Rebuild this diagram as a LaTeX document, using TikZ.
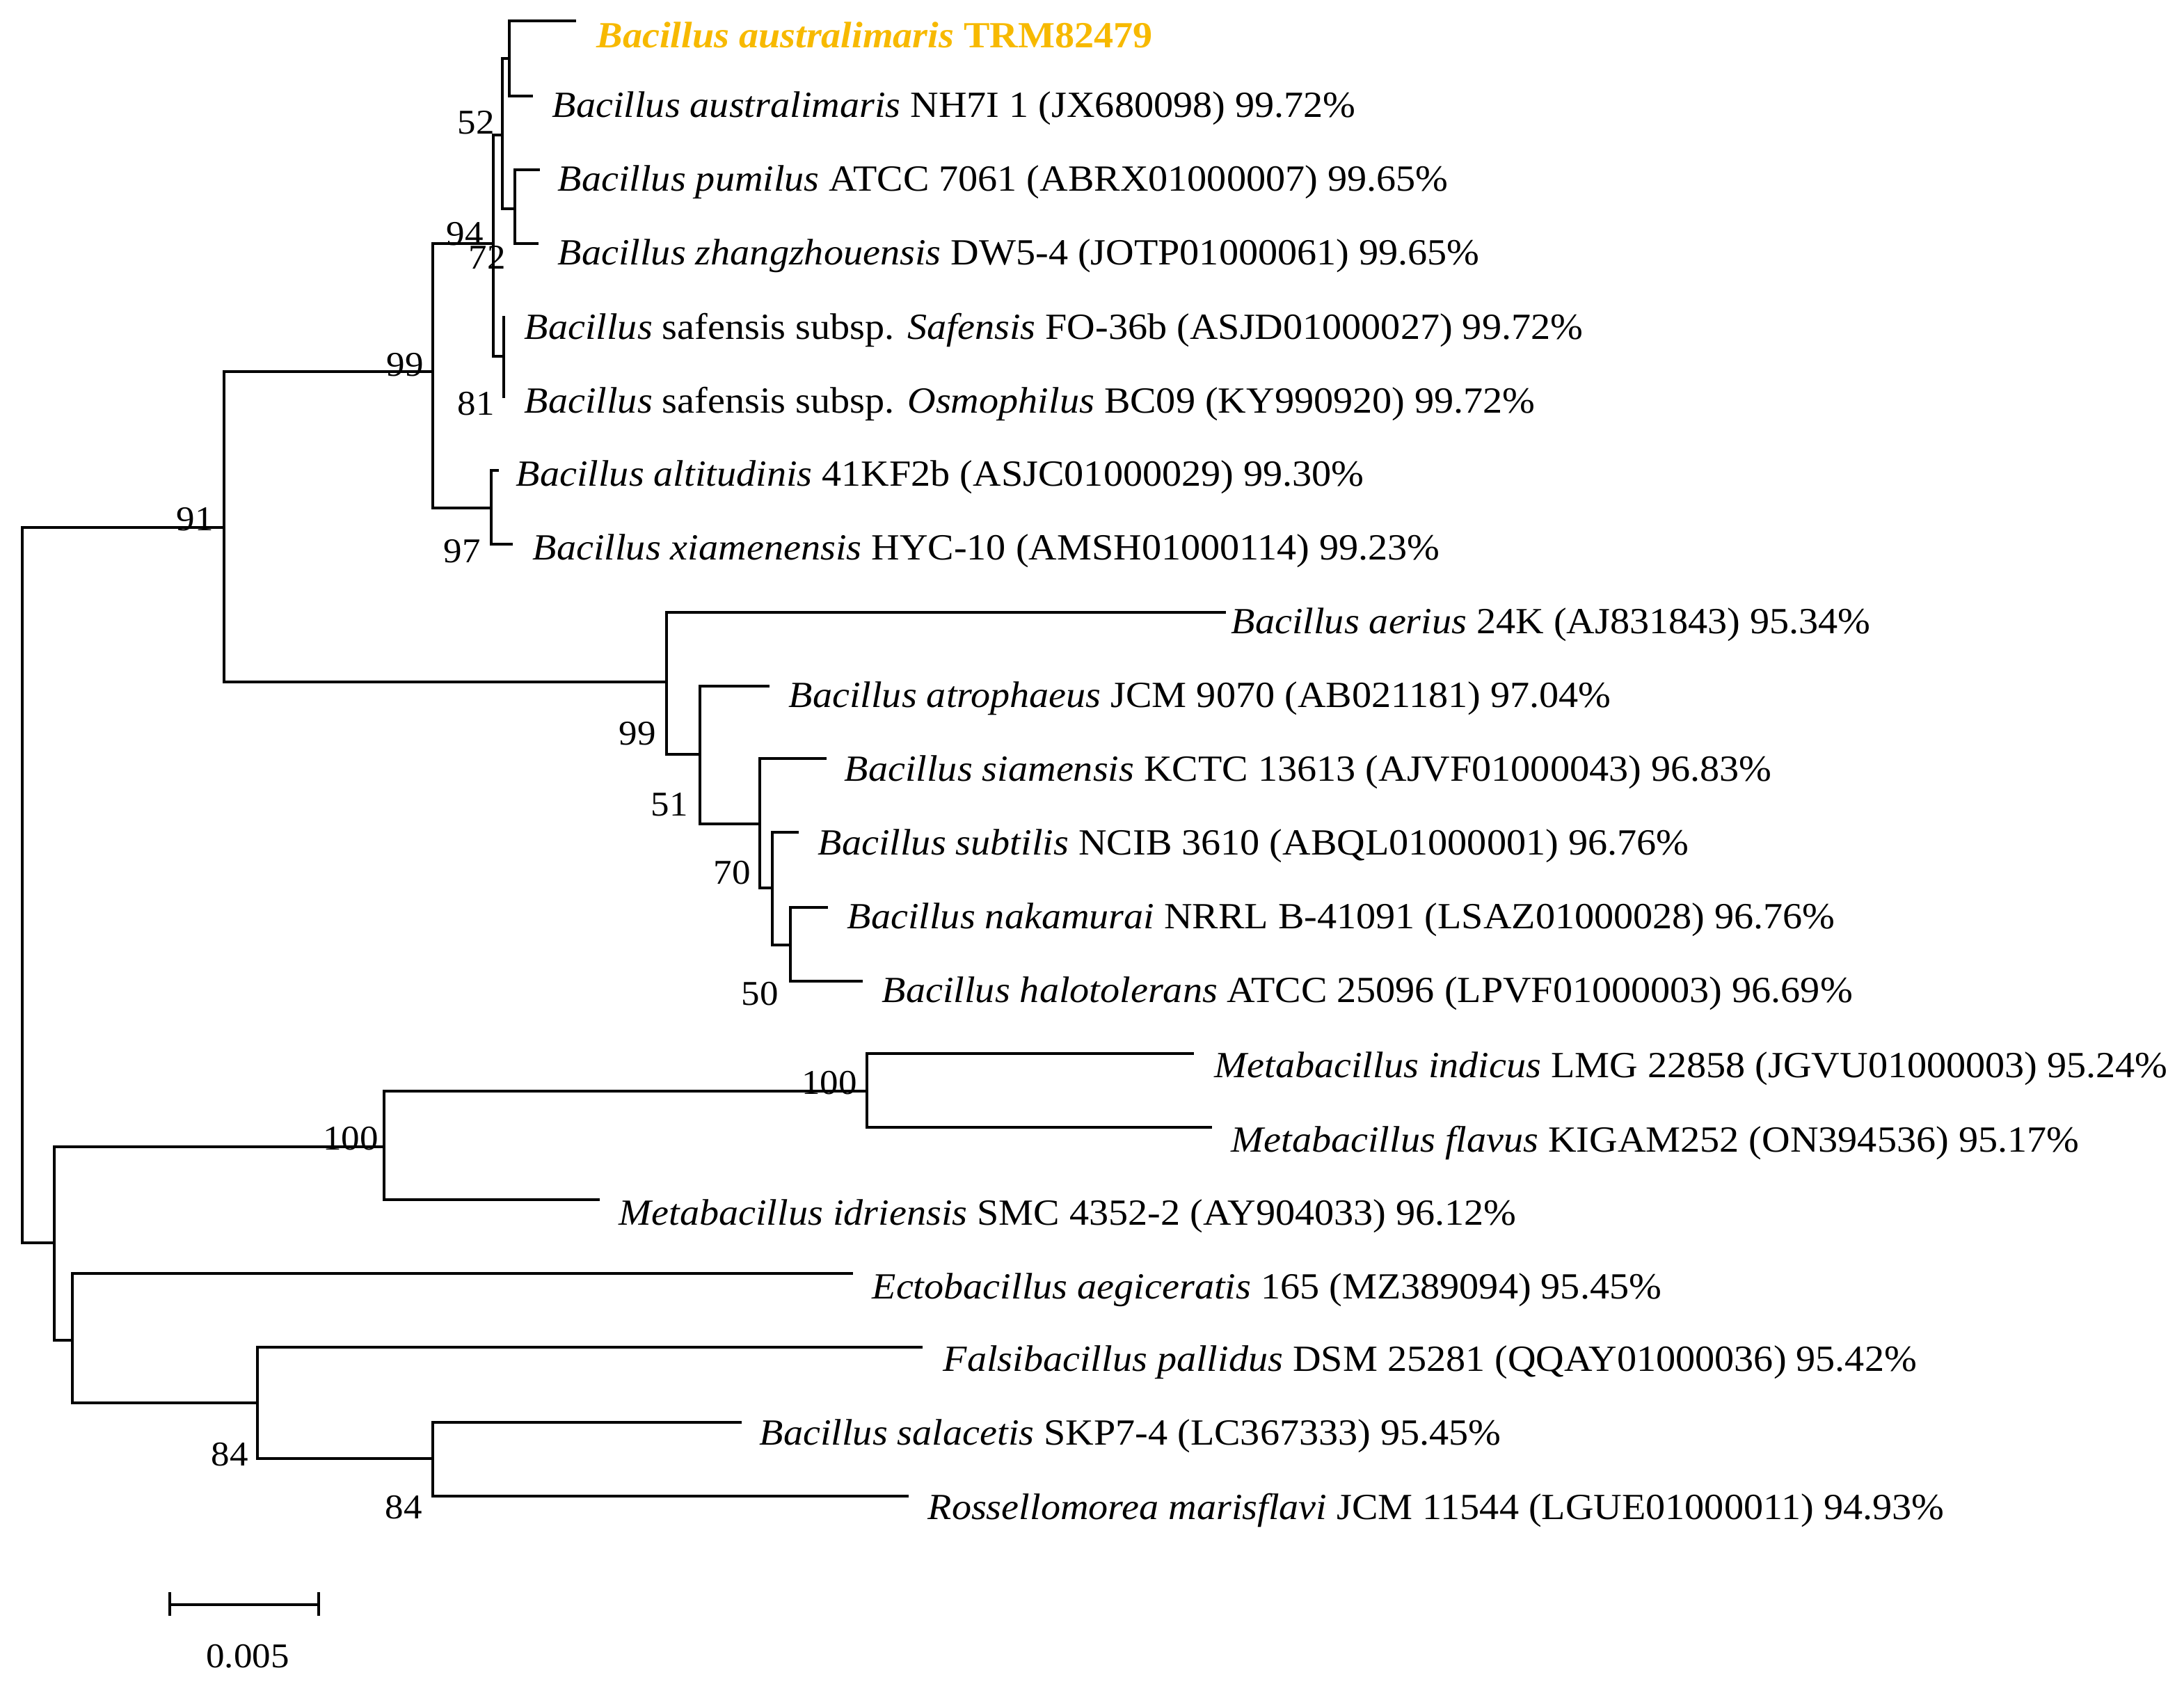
\documentclass[tikz,border=0pt]{standalone}
\usepackage{fontspec}
\setmainfont[FakeStretch=1.06]{Liberation Serif}
\begin{document}
\begin{tikzpicture}[x=1pt,y=-1pt,line width=1.7pt,
  br/.style={draw=black,line cap=rect},
  lab/.style={anchor=west,inner sep=0pt,font=\fontsize{26.5}{30}\selectfont},
  bs/.style={inner sep=0pt,font=\fontsize{25}{28}\selectfont}]
\useasboundingbox (0,0) rectangle (1569.5,1210);
\definecolor{gold}{HTML}{F7B900}
% coordinates
\coordinate (root) at (16,379);
\coordinate (a91) at (161,379);
\coordinate (a99) at (311,267);
\coordinate (a94) at (354.5,175);
\coordinate (a52) at (361,97);
\coordinate (aA) at (366,42);
\coordinate (apz) at (370,150);
\coordinate (asaf) at (362,256);
\coordinate (aalt) at (353,365);
\coordinate (b99) at (479,490);
\coordinate (b51) at (503,542);
\coordinate (b70) at (546,592);
\coordinate (bsub) at (555,638);
\coordinate (b50) at (568,679);
\coordinate (c) at (39,893);
\coordinate (m100) at (276,824);
\coordinate (m100b) at (623,784);
\coordinate (d) at (52,963);
\coordinate (e84) at (185,1008);
\coordinate (f84) at (311,1048);
\coordinate (L1) at (413,15);
\coordinate (L2) at (382,69);
\coordinate (L3) at (387,122);
\coordinate (L4) at (386,175);
\coordinate (L5) at (362,228);
\coordinate (L6) at (362,285);
\coordinate (L7) at (357.5,338);
\coordinate (L8) at (367.5,391);
\coordinate (L9) at (880,440);
\coordinate (L10) at (552,493);
\coordinate (L11) at (593,545);
\coordinate (L12) at (573,598);
\coordinate (L13) at (594,652);
\coordinate (L14) at (619,705);
\coordinate (L15) at (857,757);
\coordinate (L16) at (870,810);
\coordinate (L17) at (430,862);
\coordinate (L18) at (612,915);
\coordinate (L19) at (662,968);
\coordinate (L20) at (532,1022);
\coordinate (L21) at (652,1075);
% branches
\draw[br] (root) |- (a91); \draw[br] (root) |- (c);
\draw[br] (a91) |- (a99); \draw[br] (a91) |- (b99);
\draw[br] (a99) |- (a94); \draw[br] (a99) |- (aalt);
\draw[br] (a94) |- (a52); \draw[br] (a94) |- (asaf);
\draw[br] (a52) |- (aA); \draw[br] (a52) |- (apz);
\draw[br] (aA) |- (L1); \draw[br] (aA) |- (L2);
\draw[br] (apz) |- (L3); \draw[br] (apz) |- (L4);
\draw[br] (asaf) |- (L5); \draw[br] (asaf) |- (L6);
\draw[br] (aalt) |- (L7); \draw[br] (aalt) |- (L8);
\draw[br] (b99) |- (L9); \draw[br] (b99) |- (b51);
\draw[br] (b51) |- (L10); \draw[br] (b51) |- (b70);
\draw[br] (b70) |- (L11); \draw[br] (b70) |- (bsub);
\draw[br] (bsub) |- (L12); \draw[br] (bsub) |- (b50);
\draw[br] (b50) |- (L13); \draw[br] (b50) |- (L14);
\draw[br] (c) |- (m100); \draw[br] (c) |- (d);
\draw[br] (m100) |- (m100b); \draw[br] (m100) |- (L17);
\draw[br] (m100b) |- (L15); \draw[br] (m100b) |- (L16);
\draw[br] (d) |- (L18); \draw[br] (d) |- (e84);
\draw[br] (e84) |- (L19); \draw[br] (e84) |- (f84);
\draw[br] (f84) |- (L20); \draw[br] (f84) |- (L21);
% leaf labels
\node[lab,text=gold] (t1) at (428,25) {\textbf{\textit{Bacillus australimaris} TRM82479}};
\node[lab] (t2) at (396,78) {\textit{Bacillus australimaris} NH7I 1 (JX680098) 99.72\%};
\node[lab] (t3) at (400,131) {\textit{Bacillus pumilus} ATCC 7061 (ABRX01000007) 99.65\%};
\node[lab] (t4) at (400,184) {\textit{Bacillus zhangzhouensis} DW5-4 (JOTP01000061) 99.65\%};
\node[lab] (t5) at (376,237) {\textit{Bacillus} safensis subsp. \textit{Safensis} FO-36b (ASJD01000027) 99.72\%};
\node[lab] (t6) at (376,290) {\textit{Bacillus} safensis subsp. \textit{Osmophilus} BC09 (KY990920) 99.72\%};
\node[lab] (t7) at (370,343) {\textit{Bacillus altitudinis} 41KF2b (ASJC01000029) 99.30\%};
\node[lab] (t8) at (382,396) {\textit{Bacillus xiamenensis} HYC-10 (AMSH01000114) 99.23\%};
\node[lab] (t9) at (884,449) {\textit{Bacillus aerius} 24K (AJ831843) 95.34\%};
\node[lab] (t10) at (566,502) {\textit{Bacillus atrophaeus} JCM 9070 (AB021181) 97.04\%};
\node[lab] (t11) at (606,555) {\textit{Bacillus siamensis} KCTC 13613 (AJVF01000043) 96.83\%};
\node[lab] (t12) at (587,608) {\textit{Bacillus subtilis} NCIB 3610 (ABQL01000001) 96.76\%};
\node[lab] (t13) at (608,661) {\textit{Bacillus nakamurai} NRRL B-41091 (LSAZ01000028) 96.76\%};
\node[lab] (t14) at (633,714) {\textit{Bacillus halotolerans} ATCC 25096 (LPVF01000003) 96.69\%};
\node[lab] (t15) at (872,768) {\textit{Metabacillus indicus} LMG 22858 (JGVU01000003) 95.24\%};
\node[lab] (t16) at (884,821) {\textit{Metabacillus flavus} KIGAM252 (ON394536) 95.17\%};
\node[lab] (t17) at (444,874) {\textit{Metabacillus idriensis} SMC 4352-2 (AY904033) 96.12\%};
\node[lab] (t18) at (626,927) {\textit{Ectobacillus aegiceratis} 165 (MZ389094) 95.45\%};
\node[lab] (t19) at (677,979) {\textit{Falsibacillus pallidus} DSM 25281 (QQAY01000036) 95.42\%};
\node[lab] (t20) at (545,1032) {\textit{Bacillus salacetis} SKP7-4 (LC367333) 95.45\%};
\node[lab] (t21) at (666,1085) {\textit{Rossellomorea marisflavi} JCM 11544 (LGUE01000011) 94.93\%};
% bootstrap values
\node[bs] (s52) at (342,88) {52};
\node[bs] (s94) at (334,168) {94};
\node[bs] (s72) at (350,185) {72};
\node[bs] (s81) at (342,290) {81};
\node[bs] (s99a) at (291,262) {99};
\node[bs] (s97) at (332,396) {97};
\node[bs] (s91) at (140,373) {91};
\node[bs] (s99b) at (458,527) {99};
\node[bs] (s51) at (481,578) {51};
\node[bs] (s70) at (526,627) {70};
\node[bs] (s50) at (546,714) {50};
\node[bs] (s100a) at (596,778) {100};
\node[bs] (s100b) at (252,818) {100};
\node[bs] (s84a) at (165,1045) {84};
\node[bs] (s84b) at (290,1083) {84};
% scale bar
\coordinate (sb1) at (122,1153);
\coordinate (sb2) at (229,1153);
\draw[br] (sb1) -- (sb2);
\draw[br] ([yshift=-7]sb1) -- ([yshift=8]sb1);
\draw[br] ([yshift=-7]sb2) -- ([yshift=8]sb2);
\node[bs] (sbl) at (178,1190) {0.005};
\end{tikzpicture}
\end{document}
